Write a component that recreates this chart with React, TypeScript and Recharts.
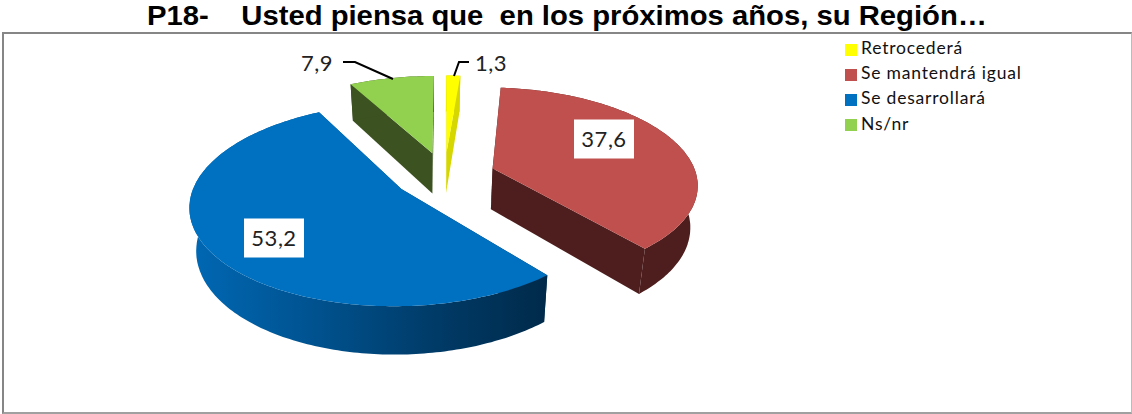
import { Legend, Pie, PieChart } from "recharts";

const categories = ["Retrocederá", "Se mantendrá igual", "Se desarrollará", "Ns/nr"];
const values = [1.3, 37.6, 53.2, 7.9];
const topColors = ["#ffff00", "#c0504d", "#0070c0", "#92d050"];
const wallColors = ["#d6d600", "#4d1e1d", "url(#blueWall)", "#3c5220"];

// where each value box sits, and the leader line when the box is outside its slice
const labelSpots = [
  { x: 491, y: 63, boxed: false, leader: "M469 62 L459 62 L454 76" },
  { x: 604, y: 139, boxed: true, leader: "" },
  { x: 274, y: 238, boxed: true, leader: "" },
  { x: 317, y: 63, boxed: false, leader: "M343 62 L355 62 L393 79" },
];

const rows = categories.map((name, i) => ({
  name,
  value: values[i],
  fill: topColors[i],
  wall: wallColors[i],
}));

const EXPLODE = 0.25;
const PERSPECTIVE = 0.15;
const DEPTH = 41.3;

type Pt = [number, number];

// flat pie coordinates -> tilted picture coordinates
function project(u: number, v: number, cx: number, cy: number, r: number): Pt {
  const w = 1 + PERSPECTIVE * v;
  return [cx + (2.04 * r * u) / w, cy - (0.95 * r * v) / w];
}

// same point on the underside of the pie
function drop(p: Pt, cx: number, cy: number): Pt {
  const vx = cx - 11.5;
  return [vx + 0.972 * (p[0] - vx), p[1] + DEPTH + (p[1] - cy) * 0.054];
}

function toPath(points: Pt[]) {
  return "M" + points.map((p) => `${p[0].toFixed(1)} ${p[1].toFixed(1)}`).join(" L") + " Z";
}

function Slice3D(props: any) {
  const { cx, cy, outerRadius, startAngle, endAngle, fill, wall } = props;
  const from = 90 - startAngle;
  const to = 90 - endAngle;
  const mid = (((from + to) / 2) * Math.PI) / 180;
  const ou = EXPLODE * Math.sin(mid);
  const ov = EXPLODE * Math.cos(mid);

  const arc: Pt[] = [];
  const steps = Math.max(4, Math.ceil(to - from));
  for (let i = 0; i <= steps; i++) {
    const a = ((from + ((to - from) * i) / steps) * Math.PI) / 180;
    arc.push(project(ou + Math.sin(a), ov + Math.cos(a), cx, cy, outerRadius));
  }
  const apex = project(ou, ov, cx, cy, outerRadius);
  const under = (p: Pt) => drop(p, cx, cy);
  const first = arc[0];
  const last = arc[arc.length - 1];

  return (
    <g>
      <path d={toPath([apex, first, under(first), under(apex)])} fill={wall} />
      <path d={toPath([apex, last, under(last), under(apex)])} fill={wall} />
      <path d={toPath([...arc, ...arc.map(under).reverse()])} fill={wall} />
      <path d={toPath([apex, ...arc])} fill={fill} />
    </g>
  );
}

function ValueLabel(props: any) {
  const { index, value } = props;
  const spot = labelSpots[index];
  const text = String(value).replace(".", ",");
  return (
    <g>
      {spot.leader && <path d={spot.leader} fill="none" stroke="#000" strokeWidth={2} />}
      {spot.boxed && <rect x={spot.x - 30} y={spot.y - 19.5} width={60} height={39} fill="#fff" />}
      <text
        x={spot.x}
        y={spot.y + 8}
        textAnchor="middle"
        fontFamily="Lato"
        fontSize={22}
        letterSpacing={0.5}
        fill="#222"
      >
        {text}
      </text>
    </g>
  );
}

export default function App() {
  return (
    <div style={{ position: "absolute", left: 0, top: 0, width: 1132, height: 414, background: "#fff", overflow: "hidden" }}>
      <div
        style={{
          position: "absolute",
          left: 147,
          top: 2,
          fontFamily: "Liberation Sans",
          fontWeight: "bold",
          fontSize: 27,
          lineHeight: "29px",
          whiteSpace: "pre",
          color: "#000",
          transform: "scaleX(1.083)",
          transformOrigin: "left top",
        }}
      >
        {"P18-    Usted piensa que  en los próximos años, su Región…"}
      </div>
      <div
        style={{
          position: "absolute",
          left: 2,
          top: 32,
          width: 1127,
          height: 378,
          borderTop: "2px solid #868686",
          borderLeft: "2px solid #868686",
          borderRight: "1px solid #bbbbbb",
          borderBottom: "2px solid #a0a0a0",
        }}
      />
      <div style={{ position: "absolute", left: 0, top: 0 }}>
        <PieChart width={1132} height={414} margin={{ top: 0, right: 0, bottom: 0, left: 0 }}>
          <defs>
            <linearGradient id="blueWall" gradientUnits="userSpaceOnUse" x1={190} y1={0} x2={547} y2={0}>
              <stop offset="0" stopColor="#0068b4" />
              <stop offset="0.35" stopColor="#00528f" />
              <stop offset="0.7" stopColor="#003a66" />
              <stop offset="1" stopColor="#002a4a" />
            </linearGradient>
          </defs>
          <Pie
            data={rows}
            dataKey="value"
            nameKey="name"
            cx={444.5}
            cy={175.5}
            outerRadius={100}
            startAngle={90}
            endAngle={-270}
            stroke="none"
            isAnimationActive={false}
            shape={Slice3D}
            label={ValueLabel}
            labelLine={false}
          />
          <Legend
            layout="vertical"
            align="right"
            verticalAlign="top"
            iconType="square"
            iconSize={12}
            itemSorter={null}
            formatter={(name: string) => <span style={{ color: "#111" }}>{name}</span>}
            wrapperStyle={{
              left: 845,
              top: 35,
              right: "auto",
              width: 240,
              fontFamily: "Lato",
              fontSize: 17.5,
              lineHeight: "25.2px",
              letterSpacing: 0.8,
            }}
          />
        </PieChart>
      </div>
    </div>
  );
}
